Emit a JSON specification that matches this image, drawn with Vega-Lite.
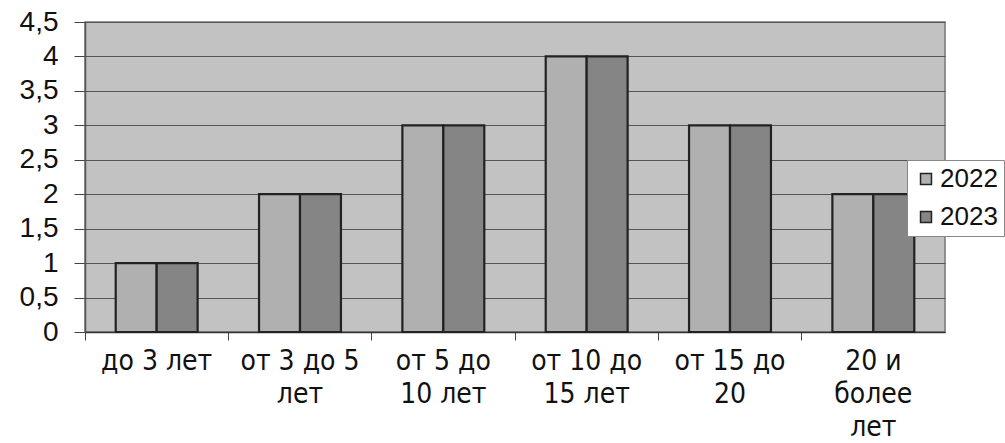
{
  "$schema": "https://vega.github.io/schema/vega-lite/v6.json",
  "width": 860,
  "height": 310,
  "autosize": "none",
  "padding": {"left": 85, "top": 22, "right": 60, "bottom": 111},
  "background": "#ffffff",
  "config": {
    "view": {"fill": "#c2c2c2", "stroke": "#777777", "strokeWidth": 1.5},
    "font": "Liberation Sans"
  },
  "data": {
    "values": [
      {"cat": "до 3 лет", "year": "2022", "value": 1},
      {"cat": "до 3 лет", "year": "2023", "value": 1},
      {"cat": "от 3 до 5 лет", "year": "2022", "value": 2},
      {"cat": "от 3 до 5 лет", "year": "2023", "value": 2},
      {"cat": "от 5 до 10 лет", "year": "2022", "value": 3},
      {"cat": "от 5 до 10 лет", "year": "2023", "value": 3},
      {"cat": "от 10 до 15 лет", "year": "2022", "value": 4},
      {"cat": "от 10 до 15 лет", "year": "2023", "value": 4},
      {"cat": "от 15 до 20", "year": "2022", "value": 3},
      {"cat": "от 15 до 20", "year": "2023", "value": 3},
      {"cat": "20 и более лет", "year": "2022", "value": 2},
      {"cat": "20 и более лет", "year": "2023", "value": 2}
    ]
  },
  "mark": {"type": "bar", "stroke": "#222222", "strokeWidth": 2.2},
  "encoding": {
    "x": {
      "field": "cat",
      "type": "nominal",
      "sort": null,
      "scale": {"paddingInner": 0, "paddingOuter": 0},
      "axis": {
        "title": null,
        "labelAngle": 0,
        "bandPosition": 0,
        "labelAlign": "center",
        "labelBaseline": "top",
        "labelFont": "'Liberation Sans Narrow', 'DejaVu Sans Condensed', 'Liberation Sans', sans-serif",
        "labelFontSize": 28,
        "labelColor": "#111111",
        "labelLineHeight": 33,
        "labelPadding": 7,
        "labelBound": false,
        "labelOverlap": false,
        "labelExpr": "datum.value == 'от 3 до 5 лет' ? ['от 3 до 5', 'лет'] : datum.value == 'от 5 до 10 лет' ? ['от 5 до', '10 лет'] : datum.value == 'от 10 до 15 лет' ? ['от 10 до', '15 лет'] : datum.value == 'от 15 до 20' ? ['от 15 до', '20'] : datum.value == '20 и более лет' ? ['20 и', 'более', 'лет'] : datum.value",
        "tickSize": 8,
        "tickColor": "#444444",
        "domainColor": "#333333",
        "domainWidth": 1.5,
        "grid": false
      }
    },
    "xOffset": {
      "field": "year",
      "type": "nominal",
      "scale": {"paddingInner": 0, "paddingOuter": 0.75}
    },
    "y": {
      "field": "value",
      "type": "quantitative",
      "scale": {"domain": [0, 4.5], "nice": false},
      "axis": {
        "title": null,
        "values": [0, 0.5, 1, 1.5, 2, 2.5, 3, 3.5, 4, 4.5],
        "format": ".1~f",
        "labelExpr": "replace(datum.label, '.', ',')",
        "labelFontSize": 28,
        "labelColor": "#111111",
        "labelPadding": 16,
        "tickSize": 11,
        "tickColor": "#444444",
        "domainColor": "#555555",
        "domainWidth": 1.5,
        "grid": true,
        "gridColor": "#555555",
        "gridWidth": 1.2
      }
    },
    "color": {
      "field": "year",
      "type": "nominal",
      "scale": {"domain": ["2022", "2023"], "range": ["#b0b0b0", "#858585"]},
      "legend": {
        "title": null,
        "orient": "none",
        "legendX": 822,
        "legendY": 138,
        "fillColor": "#ffffff",
        "strokeColor": "#888888",
        "padding": 6,
        "symbolType": "square",
        "symbolSize": 120,
        "symbolStrokeColor": "#222222",
        "symbolStrokeWidth": 1.5,
        "labelFontSize": 26,
        "labelColor": "#111111",
        "labelOffset": 1,
        "rowPadding": 12
      }
    }
  }
}
